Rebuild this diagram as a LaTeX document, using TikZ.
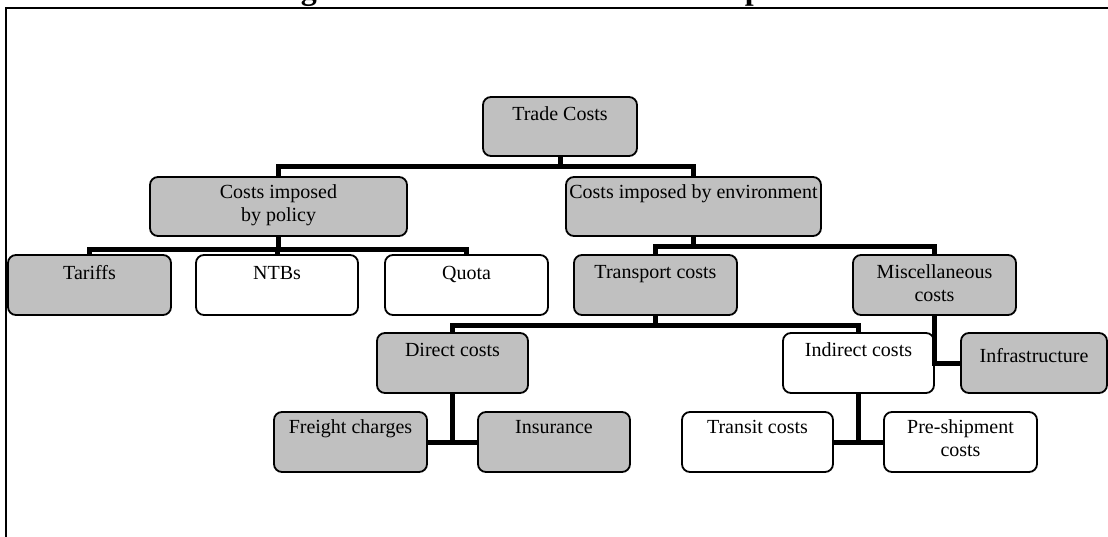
\documentclass[tikz,border=0pt]{standalone}
\usepackage{fontspec}
\setmainfont{Liberation Serif}
\usetikzlibrary{calc}
\definecolor{boxgray}{HTML}{C0C0C0}
\tikzset{
  orgbox/.style={draw=black, line width=1.8pt, rounded corners=8pt, inner sep=0pt, outer sep=0pt,
    anchor=north west, font=\fontsize{20}{23}\selectfont},
  gbox/.style={orgbox, fill=boxgray},
  wbox/.style={orgbox, fill=white},
  conn/.style={line width=5pt, line join=miter},
  frameline/.style={line width=2pt},
}
% name, style, x1, y1, x2, y2, first-baseline offset, text
\newcommand\mkbox[8]{%
  \node[#2, minimum width={(#5-#3)*1pt}, minimum height={(#6-#4)*1pt}] (#1) at (#3,#4)
  {\raisebox{0pt}[#7pt][\dimexpr #6pt-#4pt-#7pt\relax]{\begin{tabular}[t]{@{}c@{}}#8\end{tabular}}};}
\begin{document}
\begin{tikzpicture}[x=1pt, y=-1pt]
\useasboundingbox (0,0) rectangle (1108,536);
\clip (0,0) rectangle (1108,536);
% title (cut off at the top edge)
\node[anchor=base, inner sep=0pt, font=\fontsize{32}{36}\selectfont\bfseries] (title) at (562,-1)
  {Figure 3: Trade Costs and its Components};
% frame
\draw[frameline] (6,560) -- (6,7.5) -- (1120,7.5);
% boxes
\mkbox{trade}{gbox}{483}{97}{637}{156}{23}{Trade Costs}
\mkbox{policy}{gbox}{150}{177}{407}{236}{21}{Costs imposed\\by policy}
\mkbox{env}{gbox}{566}{177}{821}{236}{21}{Costs imposed by environment}
\mkbox{tariffs}{gbox}{8}{255}{171}{315}{24}{Tariffs}
\mkbox{ntbs}{wbox}{196}{255}{358}{315}{24}{NTBs}
\mkbox{quota}{wbox}{385}{255}{548}{315}{24}{Quota}
\mkbox{transport}{gbox}{574}{255}{737}{315}{23}{Transport costs}
\mkbox{misc}{gbox}{853}{255}{1016}{315}{23}{Miscellaneous\\costs}
\mkbox{direct}{gbox}{377}{333}{528}{393}{23}{Direct costs}
\mkbox{indirect}{wbox}{783}{333}{934}{393}{23}{Indirect costs}
\mkbox{infra}{gbox}{961}{333}{1107}{393}{29}{Infrastructure}
\mkbox{freight}{gbox}{274}{412}{427}{472}{21}{Freight charges}
\mkbox{insurance}{gbox}{478}{412}{630}{472}{21}{Insurance}
\mkbox{transit}{wbox}{682}{412}{833}{472}{21}{Transit costs}
\mkbox{preship}{wbox}{884}{412}{1037}{472}{21}{Pre-shipment\\costs}
% junction points
\path (trade.south) ++(0,10) coordinate (j1);
\path (policy.south) ++(0,13) coordinate (j2);
\path (env.south) ++(0,10) coordinate (j3);
\path (transport.south) ++(0,10) coordinate (j4);
% connectors
\draw[conn] (trade.south) -- (j1);
\draw[conn] (policy.north) |- (j1) -| (env.north);
\draw[conn] (policy.south) -- (j2);
\draw[conn] (tariffs.north) |- (j2) -| (quota.north);
\draw[conn] (ntbs.north) -- (ntbs.north |- j2);
\draw[conn] (env.south) -- (j3);
\draw[conn] (transport.north) |- (j3) -| (misc.north);
\draw[conn] (transport.south) -- (j4);
\draw[conn] (direct.north) |- (j4) -| (indirect.north);
\draw[conn] (misc.south) |- (infra.west);
\draw[conn] (freight.east) -- (insurance.west);
\draw[conn] (direct.south) -- ($(direct.south |- freight.east)+(0,2.5)$);
\draw[conn] (transit.east) -- (preship.west);
\draw[conn] (indirect.south) -- ($(indirect.south |- transit.east)+(0,2.5)$);
\end{tikzpicture}
\end{document}
